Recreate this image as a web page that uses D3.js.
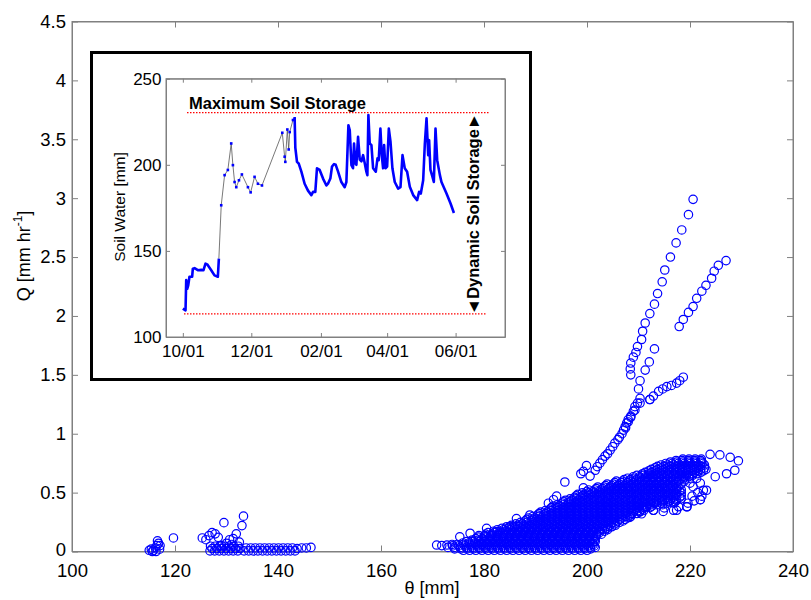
<!DOCTYPE html>
<html lang="en">
<meta charset="utf-8">
<style>
body { margin: 0; background: white; }
svg { font-family: "Liberation Sans", Arial, Helvetica, sans-serif; }
.axis path, .axis line { stroke: #808080; }
.axis text { fill: black; }
.dot { fill: none; stroke: #0000ff; stroke-width: 1.2; }
</style>
<svg width="811" height="600"></svg>
<script src="https://d3js.org/d3.v7.min.js"></script>
<script>
// ---- main scatter: theta [mm] vs Q [mm/hr] ----
var xTicks = [100, 120, 140, 160, 180, 200, 220, 240];
var yTicks = [0, 0.5, 1, 1.5, 2, 2.5, 3, 3.5, 4, 4.5];

var earlyPts = [[115.0,0.01],[115.4,0.02],[115.8,0.01],[116.2,0.03],[116.5,0.05],[116.8,0.07],[116.6,0.09],
    [117.0,0.02],[116.3,0.0],[115.6,0.0],[117.1,0.05],[119.7,0.115],
    [125.3,0.115],[126.0,0.10],[126.6,0.135],[127.2,0.16],[127.8,0.15],[128.4,0.12],[129.5,0.245],[133.0,0.22],
    [133.3,0.30],[131.9,0.15],[131.3,0.11],[130.6,0.10],[130.0,0.07],[129.0,0.05],[132.5,0.08],[131.0,0.06],
    [126.8,0.005],[127.7,0.005],[128.6,0.005],[129.5,0.005],[130.4,0.005],[131.3,0.005],[132.2,0.005],
    [127.2,0.025],[128.1,0.025],[129.0,0.025],[129.9,0.025],[130.8,0.025],[131.7,0.025],[132.6,0.025],
    [126.9,0.045],[127.8,0.045],[128.7,0.045],[129.6,0.045],[130.5,0.045],[131.4,0.045],[132.3,0.045],
    [133.4,0.005],[134.3,0.005],[135.2,0.005],[136.1,0.005],[137.0,0.005],[137.9,0.005],[138.8,0.005],
    [139.7,0.005],[140.6,0.005],[141.5,0.005],[142.4,0.005],[143.3,0.005],
    [133.8,0.03],[134.7,0.03],[135.6,0.03],[136.5,0.03],[137.4,0.03],[138.3,0.03],[139.2,0.03],
    [140.1,0.03],[141.0,0.03],[141.9,0.03],[142.8,0.03],[143.7,0.025],
    [144.6,0.03],[145.5,0.03],[146.4,0.035]];

// dense cloud, one row per Q level: [Q, theta, theta, ...]
var cloudRows = [
    [0.010, 176,177.2,178.4,179.6,180.8,182,183.2,184.4,185.6,186.8,188,189.2,190.4,191.6,192.8,194,195.2,196.4,197.6,198.8,200],
    [0.035, 173,174.2,175.4,176.6,177.8,179,180.2,181.4,182.6,183.8,185,186.2,187.4,188.6,189.8,191,192.2,193.4,194.6,195.8,197,198.2,199.4,200.6,201.6],
    [0.060, 174.8,176,177.2,178.4,179.6,180.8,182,183.2,184.4,185.6,186.8,188,189.2,190.4,191.6,192.8,194,195.2,196.4,197.6,198.8,200,201.2],
    [0.085, 176.6,177.8,179,180.2,181.4,182.6,183.8,185,186.2,187.4,188.6,189.8,191,192.2,193.4,194.6,195.8,197,198.2,199.4,200.6,201.6],
    [0.110, 178.4,179.6,180.8,182,183.2,184.4,185.6,186.8,188,189.2,190.4,191.6,192.8,194,195.2,196.4,197.6,198.8,200,201.2],
    [0.135, 179.0,180.2,181.4,182.6,183.8,185,186.2,187.4,188.6,189.8,191,192.2,193.4,194.6,195.8,197,198.2,199.4,200.6,201.8],
    [0.160, 180.8,182,183.2,184.4,185.6,186.8,188,189.2,190.4,191.6,192.8,194,195.2,196.4,197.6,198.8,200,201.2,202.4],
    [0.185, 182.6,183.8,185,186.2,187.4,188.6,189.8,191,192.2,193.4,194.6,195.8,197,198.2,199.4,200.6,201.8,203,204],
    [0.210, 184.4,185.6,186.8,188,189.2,190.4,191.6,192.8,194,195.2,196.4,197.6,198.8,200,201.2,202.4,203.6,204.8],
    [0.235, 186.2,187.4,188.6,189.8,191,192.2,193.4,194.6,195.8,197,198.2,199.4,200.6,201.8,203,204.2,205.4],
    [0.260, 188,189.2,190.4,191.6,192.8,194,195.2,196.4,197.6,198.8,200,201.2,202.4,203.6,204.8,206,207],
    [0.285, 188.6,189.8,191,192.2,193.4,194.6,195.8,197,198.2,199.4,200.6,201.8,203,204.2,205.4,206.6,207.8],
    [0.310, 190.4,191.6,192.8,194,195.2,196.4,197.6,198.8,200,201.2,202.4,203.6,204.8,206,207.2,208.4],
    [0.335, 191.0,192.2,193.4,194.6,195.8,197,198.2,199.4,200.6,201.8,203,204.2,205.4,206.6,207.8,209,210.2],
    [0.360, 192.8,194,195.2,196.4,197.6,198.8,200,201.2,202.4,203.6,204.8,206,207.2,208.4,209.6,210.8],
    [0.385, 193.4,194.6,195.8,197,198.2,199.4,200.6,201.8,203,204.2,205.4,206.6,207.8,209,210.2,211.4,212.6],
    [0.410, 195.2,196.4,197.6,198.8,200,201.2,202.4,203.6,204.8,206,207.2,208.4,209.6,210.8,212,213.2,214.4,215.6,216.8],
    [0.435, 195.8,197,198.2,199.4,200.6,201.8,203,204.2,205.4,206.6,207.8,209,210.2,211.4,212.6,213.8,215,216.2,217.4],
    [0.460, 197.6,198.8,200,201.2,202.4,203.6,204.8,206,207.2,208.4,209.6,210.8,212,213.2,214.4,215.6,216.8,218],
    [0.485, 198.2,199.4,200.6,201.8,203,204.2,205.4,206.6,207.8,209,210.2,211.4,212.6,213.8,215,216.2,217.4],
    [0.510, 200,201.2,202.4,203.6,204.8,206,207.2,208.4,209.6,210.8,212,213.2,214.4,215.6,216.8,218],
    [0.535, 201.8,203,204.2,205.4,206.6,207.8,209,210.2,211.4,212.6,213.8,215,216.2,217.4],
    [0.560, 203.6,204.8,206,207.2,208.4,209.6,210.8,212,213.2,214.4,215.6,216.6],
    [0.585, 205.4,206.6,207.8,209,210.2,211.4,212.6,213.8,215,216.2,217.4],
    [0.610, 207.2,208.4,209.6,210.8,212,213.2,214.4,215.6,216.8,218,219],
    [0.635, 209,210.2,211.4,212.6,213.8,215,216.2,217.4,218.6,219.8],
    [0.660, 210.8,212,213.2,214.4,215.6,216.8,218,219.2,220.4,221.4],
    [0.685, 212,213.2,214.4,215.6,216.8,218,219.2,220.4,221.6,222.6],
    [0.710, 213.2,214.4,215.6,216.8,218,219.2,220.4,221.6,222.8],
    [0.735, 214.4,215.6,216.8,218,219.2,220.4,221.6,222.8],
    [0.760, 216.2,217.4,218.6,219.8,221,222.2],
    [0.785, 218.6,219.8,221,222.2]
];

// in-between rows of the same cloud
var cloudRowsMid = [
    [0.0225, 174.3,175.5,176.7,177.9,179.1,180.3,181.5,182.7,183.9,185.1,186.3,187.5,188.7,189.9,191.1,192.3,193.5,194.7,195.9,197.1,198.3,199.5,200.7],
    [0.0475, 173.9,175.1,176.3,177.5,178.7,179.9,181.1,182.3,183.5,184.7,185.9,187.1,188.3,189.5,190.7,191.9,193.1,194.3,195.5,196.7,197.9,199.1,200.3,201.4],
    [0.0725, 175.9,177.1,178.3,179.5,180.7,181.9,183.1,184.3,185.5,186.7,187.9,189.1,190.3,191.5,192.7,193.9,195.1,196.3,197.5,198.7,199.9,201.1],
    [0.0975, 177.7,178.9,180.1,181.3,182.5,183.7,184.9,186.1,187.3,188.5,189.7,190.9,192.1,193.3,194.5,195.7,196.9,198.1,199.3,200.5,201.5],
    [0.1225, 178.9,180.1,181.3,182.5,183.7,184.9,186.1,187.3,188.5,189.7,190.9,192.1,193.3,194.5,195.7,196.9,198.1,199.3,200.5,201.7],
    [0.1475, 180.3,181.5,182.7,183.9,185.1,186.3,187.5,188.7,189.9,191.1,192.3,193.5,194.7,195.9,197.1,198.3,199.5,200.7,201.9,202.8],
    [0.1725, 181.9,183.1,184.3,185.5,186.7,187.9,189.1,190.3,191.5,192.7,193.9,195.1,196.3,197.5,198.7,199.9,201.1,202.3,203.4],
    [0.1975, 183.5,184.7,185.9,187.1,188.3,189.5,190.7,191.9,193.1,194.3,195.5,196.7,197.9,199.1,200.3,201.5,202.7,203.9],
    [0.2225, 185.3,186.5,187.7,188.9,190.1,191.3,192.5,193.7,194.9,196.1,197.3,198.5,199.7,200.9,202.1,203.3,204.5,205.5],
    [0.2475, 187.1,188.3,189.5,190.7,191.9,193.1,194.3,195.5,196.7,197.9,199.1,200.3,201.5,202.7,203.9,205.1,206.3],
    [0.2725, 188.3,189.5,190.7,191.9,193.1,194.3,195.5,196.7,197.9,199.1,200.3,201.5,202.7,203.9,205.1,206.3,207.4],
    [0.2975, 189.5,190.7,191.9,193.1,194.3,195.5,196.7,197.9,199.1,200.3,201.5,202.7,203.9,205.1,206.3,207.5,208.5],
    [0.3225, 190.7,191.9,193.1,194.3,195.5,196.7,197.9,199.1,200.3,201.5,202.7,203.9,205.1,206.3,207.5,208.7,209.7],
    [0.3475, 191.9,193.1,194.3,195.5,196.7,197.9,199.1,200.3,201.5,202.7,203.9,205.1,206.3,207.5,208.7,209.9,211],
    [0.3725, 193.1,194.3,195.5,196.7,197.9,199.1,200.3,201.5,202.7,203.9,205.1,206.3,207.5,208.7,209.9,211.1,212.2],
    [0.3975, 194.3,195.5,196.7,197.9,199.1,200.3,201.5,202.7,203.9,205.1,206.3,207.5,208.7,209.9,211.1,212.3,213.5,214.7],
    [0.4225, 195.5,196.7,197.9,199.1,200.3,201.5,202.7,203.9,205.1,206.3,207.5,208.7,209.9,211.1,212.3,213.5,214.7,215.9,217.1],
    [0.4475, 196.7,197.9,199.1,200.3,201.5,202.7,203.9,205.1,206.3,207.5,208.7,209.9,211.1,212.3,213.5,214.7,215.9,217.1,218.3],
    [0.4725, 197.9,199.1,200.3,201.5,202.7,203.9,205.1,206.3,207.5,208.7,209.9,211.1,212.3,213.5,214.7,215.9,217.1,218.3],
    [0.4975, 199.1,200.3,201.5,202.7,203.9,205.1,206.3,207.5,208.7,209.9,211.1,212.3,213.5,214.7,215.9,217.1,218.3],
    [0.5225, 200.3,201.5,202.7,203.9,205.1,206.3,207.5,208.7,209.9,211.1,212.3,213.5,214.7,215.9,217.1,218.3],
    [0.5475, 202.1,203.3,204.5,205.7,206.9,208.1,209.3,210.5,211.7,212.9,214.1,215.3,216.5,217.7],
    [0.5725, 203.9,205.1,206.3,207.5,208.7,209.9,211.1,212.3,213.5,214.7,215.9,217.1,218.3],
    [0.5975, 205.7,206.9,208.1,209.3,210.5,211.7,212.9,214.1,215.3,216.5,217.7,218.9],
    [0.6225, 207.9,209.1,210.3,211.5,212.7,213.9,215.1,216.3,217.5,218.7,219.9],
    [0.6475, 209.7,210.9,212.1,213.3,214.5,215.7,216.9,218.1,219.3,220.5],
    [0.6725, 211.3,212.5,213.7,214.9,216.1,217.3,218.5,219.7,220.9,222.1],
    [0.6975, 212.5,213.7,214.9,216.1,217.3,218.5,219.7,220.9,222.1,223.1],
    [0.7225, 213.7,214.9,216.1,217.3,218.5,219.7,220.9,222.1],
    [0.7475, 215.3,216.5,217.7,218.9,220.1,221.3,222.5],
    [0.7725, 217.3,218.5,219.7,220.9,222.1]
];

// open rings around the right side of the cloud
var ringPts = [[212.9,0.35],[216.8,0.35],[219.4,0.38],[222.0,0.44],[222.6,0.52],[222.0,0.58],[221.3,0.62],
    [220.6,0.55],[220.0,0.58],[212.9,0.41],[211.6,0.38],[210.3,0.34],[215.0,0.37],[217.8,0.38],[220.8,0.43],
    [221.5,0.50],[219.6,0.41],[220.4,0.47]];

var loosePts = [[170.8,0.055],[171.8,0.05],[172.8,0.055],[173.8,0.06],[175.3,0.125],[177.3,0.155],[180.5,0.197],
    [182.5,0.17],[185,0.21],[186.3,0.28],[188.9,0.31],[192.5,0.41],[193.5,0.44],[194.1,0.47],[195.7,0.59],
    [199.3,0.54],[199.3,0.68],[199.9,0.73],[198.8,0.66],
    [223.9,0.825],[225.8,0.82],[227.8,0.80],[229.4,0.77],[228.7,0.69],[227.1,0.66],[224.9,0.635],[223.2,0.52],
    [222.3,0.47],[222.0,0.44],[219.4,0.38],[217.4,0.35],[214.8,0.34],[212.9,0.35],[210.6,0.32],[208.3,0.29]];

var steepPts = [[220.6,2.99],[219.7,2.86],[218.4,2.73],[217.3,2.62],[216.2,2.50],[215.1,2.39],[214.6,2.29],
    [213.7,2.19],[213.1,2.10],[212.2,2.02],[211.3,1.94],[210.8,1.87],[210.6,1.80],[209.8,1.74],[209.5,1.69],
    [209.0,1.65],[208.5,1.60],[208.4,1.55],[208.5,1.50],
    [213.1,1.72],[212.1,1.61],[211.3,1.54],[210.3,1.45],[210.0,1.38],[210.3,1.30],[209.8,1.26],[209.3,1.23],
    [209.0,1.19],[208.5,1.15],[208.0,1.10],[207.4,1.06],[207.1,1.03],[206.3,0.97],[205.4,0.92],[204.5,0.86],
    [203.5,0.81],[202.5,0.75],[201.6,0.69],[200.6,0.64],
    [212.2,1.29],[210.3,1.26],[209.3,1.20],[208.5,1.14],[207.7,1.09],[208.0,1.12],[207.5,1.05],[206.8,1.00],
    [206.0,0.95],[205.0,0.89],[204.0,0.83],[203.0,0.78],[202.0,0.72]];

var rightPts = [[227.0,2.47],[225.5,2.43],[224.7,2.38],[224.2,2.32],[223.1,2.26],[222.3,2.21],[221.3,2.15],
    [220.6,2.08],[219.7,2.03],[218.7,1.97],[217.9,1.91]];

var kneePts = [[218.7,1.48],[218.0,1.45],[217.4,1.43],[216.4,1.41],[215.5,1.40],[214.7,1.38],[213.9,1.36],
    [212.9,1.32],[212.2,1.29]];

// ---- inset: soil water [mm], days after 10/01 ----
var insetStart = "2009-10-01";
var insetTickDates = ["2009-10-01", "2009-12-01", "2010-02-01", "2010-04-01", "2010-06-01"];
var insetYTicks = [100, 150, 200, 250];
var maxStorage = 230.3;
var minStorage = 113.4;

var swEarly = [[0,116.5],[2.4,115.5],[3.0,133],[3.9,128],[4.8,130],[5.9,135],[8.3,135],[8.9,139.7],[10.4,140],
    [13.4,138.8],[16.4,139],[18.4,138.8],[20.2,142.6],[21.7,142.2],[25.3,138.8],[28.2,135.8],[31.2,135],[32.1,145.5]];
var swSparse = [[34.2,176.5],[37.2,194],[40.1,197],[43.1,212.4],[44.6,199.8],[46.1,190],[47.6,187],[50.0,191],
    [52.6,194.4],[58.0,187],[60.4,184],[63.9,193],[66.9,189],[70.5,188],[88.6,218.6],[90.7,204.7],[91.3,201.7],
    [93.1,220.5],[94.3,208.9],[95.2,219],[98.1,226],[99.6,227]];
var swLate = [[99.6,227],[100.2,210],[101.7,201.7],[103.2,200.8],[105.6,196],[108.5,189],[111.5,185],[114.5,182.4],
    [116,184.3],[118,184.3],[119.5,198],[121.9,197],[124.9,192],[127.9,188],[129.3,189],[131.4,192],[132.9,199],
    [134.7,200.4],[136.2,200],[138.3,196],[141.2,190],[144.2,187],[145.7,190],[147.5,223],[148.7,220],[150.2,199.8],
    [151.6,198],[152.5,212.4],[153.7,200.8],[154.6,200],[156.1,216.3],[157.6,203],[159.1,202],[160.6,205.6],
    [162.1,200.8],[163.5,196],[164.4,194],[165.3,228.9],[166.5,212.4],[168.0,211.4],[169.5,198],[171.9,196],
    [173.4,203.7],[174.5,202.7],[176,221],[177.2,205.6],[178.4,198],[179.3,211.4],[180.5,198],[182,199],[183.5,221],
    [185,213.4],[186.7,198],[188.8,190],[191.8,186.2],[193.9,187],[195.7,205.6],[197.7,198],[199.8,196],[202.2,187.2],
    [205.2,182.4],[208.7,179.5],[210.5,184.3],[212,183.3],[214.1,191],[215.6,212.4],[217.1,227],[218.6,205.6],
    [219.4,214.3],[220.6,197],[222.4,193],[223.6,190],[225.1,221],[226.6,202.7],[229,194],[230.4,190],[234.9,183.3],
    [238.5,177.5],[241.5,172]];

var svg = d3.select("svg");

var x = d3.scaleLinear().domain([100, 240]).range([72, 793]);
var y = d3.scaleLinear().domain([0, 4.5]).range([551.5, 21.5]);

// main frame
svg.append("rect")
    .attr("x", 72).attr("y", 21.5).attr("width", 721).attr("height", 530)
    .attr("fill", "none").attr("stroke", "#808080");

svg.append("g").attr("class", "axis")
    .attr("transform", "translate(0,551.5)")
    .call(d3.axisBottom(x).tickValues(xTicks).tickSize(-6).tickSizeOuter(0).tickPadding(12))
    .style("font-size", "18.5px").style("font-family", null);
var yAxisG = svg.append("g").attr("class", "axis")
    .attr("transform", "translate(72,0)")
    .call(d3.axisLeft(y).tickValues(yTicks).tickSize(-6).tickSizeOuter(0).tickPadding(6)
        .tickFormat(function(d) { return String(d); }))
    .style("font-size", "18.5px").style("font-family", null);
// lift the "0" a little so it clears the "100" below it
yAxisG.selectAll(".tick text").filter(function(d) { return d === 0; }).attr("y", -2);
svg.append("g").attr("class", "axis")
    .attr("transform", "translate(0,21.5)")
    .call(d3.axisTop(x).tickValues(xTicks).tickSize(-6).tickSizeOuter(0).tickFormat(""));
svg.append("g").attr("class", "axis")
    .attr("transform", "translate(793,0)")
    .call(d3.axisRight(y).tickValues(yTicks).tickSize(-6).tickSizeOuter(0).tickFormat(""));
svg.selectAll(".axis path.domain").attr("stroke", "none");

// axis titles
svg.append("text")
    .attr("x", 432).attr("y", 594)
    .attr("text-anchor", "middle").style("font-size", "18px")
    .text("\u03b8 [mm]");
var ql = svg.append("text")
    .attr("transform", "translate(30,256) rotate(-90)")
    .attr("text-anchor", "middle").style("font-size", "18px");
ql.append("tspan").text("Q [mm hr");
ql.append("tspan").attr("dy", -8).style("font-size", "12px").text("-1");
ql.append("tspan").attr("dy", 8).text("]");

// scatter
var allPts = earlyPts.concat(loosePts, ringPts, steepPts, rightPts, kneePts);
cloudRows.concat(cloudRowsMid).forEach(function(r) {
    r.slice(1).forEach(function(t) { allPts.push([t, r[0]]); });
});
svg.append("g").selectAll("circle")
    .data(allPts)
    .enter().append("circle")
    .attr("class", "dot")
    .attr("cx", function(d) { return x(d[0]); })
    .attr("cy", function(d) { return y(d[1]); })
    .attr("r", 4.2);

// ---- inset ----
svg.append("rect")
    .attr("x", 91.5).attr("y", 52.5).attr("width", 439).attr("height", 327)
    .attr("fill", "white").attr("stroke", "black").attr("stroke-width", 3);

var parse = d3.timeParse("%Y-%m-%d");
var t0 = parse(insetStart);
function dayDate(d) { return new Date(t0.getTime() + d * 864e5); }

var ix = d3.scaleTime().domain([parse("2009-09-16"), parse("2010-07-15")]).range([166, 505]);
var iy = d3.scaleLinear().domain([100, 250]).range([337, 78.7]);
var tickDates = insetTickDates.map(parse);

svg.append("rect")
    .attr("x", 166).attr("y", 78.7).attr("width", 339).attr("height", 258.3)
    .attr("fill", "none").attr("stroke", "#808080");
svg.append("g").attr("class", "axis")
    .attr("transform", "translate(0,337)")
    .call(d3.axisBottom(ix).tickValues(tickDates).tickSize(-4).tickSizeOuter(0).tickPadding(7.5)
        .tickFormat(d3.timeFormat("%m/%d")))
    .style("font-size", "17px").style("font-family", null);
svg.append("g").attr("class", "axis")
    .attr("transform", "translate(166,0)")
    .call(d3.axisLeft(iy).tickValues(insetYTicks).tickSize(-4).tickSizeOuter(0).tickPadding(4.5))
    .style("font-size", "17px").style("font-family", null);
svg.append("g").attr("class", "axis")
    .attr("transform", "translate(0,78.7)")
    .call(d3.axisTop(ix).tickValues(tickDates).tickSize(-4).tickSizeOuter(0).tickFormat(""));
svg.append("g").attr("class", "axis")
    .attr("transform", "translate(505,0)")
    .call(d3.axisRight(iy).tickValues(insetYTicks).tickSize(-4).tickSizeOuter(0).tickFormat(""));
svg.selectAll(".axis path.domain").attr("stroke", "none");

svg.append("text")
    .attr("transform", "translate(125,207) rotate(-90)")
    .attr("text-anchor", "middle").style("font-size", "15.5px")
    .text("Soil Water [mm]");

// storage limits
svg.append("line")
    .attr("x1", 187).attr("x2", 489)
    .attr("y1", iy(maxStorage)).attr("y2", iy(maxStorage))
    .attr("stroke", "red").attr("stroke-width", 1.3).attr("stroke-dasharray", "1.5,1.5");
svg.append("line")
    .attr("x1", 184).attr("x2", 487)
    .attr("y1", iy(minStorage)).attr("y2", iy(minStorage))
    .attr("stroke", "red").attr("stroke-width", 1.3).attr("stroke-dasharray", "1.5,1.5");

svg.append("text")
    .attr("x", 189).attr("y", 109)
    .style("font-size", "16.5px").style("font-weight", "bold")
    .text("Maximum Soil Storage");
svg.append("text")
    .attr("transform", "translate(479,214) rotate(-90)")
    .attr("text-anchor", "middle").style("font-size", "16.5px").style("font-weight", "bold")
    .text("\u25c4Dynamic Soil Storage\u25ba");

// soil water series
var line = d3.line()
    .x(function(d) { return ix(dayDate(d[0])); })
    .y(function(d) { return iy(d[1]); });

var thin = [swEarly[swEarly.length - 1]].concat(swSparse, [swLate[0]]);
svg.append("path")
    .attr("d", line(thin))
    .attr("fill", "none").attr("stroke", "#555").attr("stroke-width", 0.8);
svg.append("g").selectAll("rect")
    .data(swSparse)
    .enter().append("rect")
    .attr("x", function(d) { return ix(dayDate(d[0])) - 1.3; })
    .attr("y", function(d) { return iy(d[1]) - 1.3; })
    .attr("width", 2.6).attr("height", 2.6)
    .attr("fill", "#0000ff");
[swEarly, swLate].forEach(function(seg) {
    svg.append("path")
        .attr("d", line(seg))
        .attr("fill", "none").attr("stroke", "#0000ff")
        .attr("stroke-width", 2.6).attr("stroke-linejoin", "round");
});
</script>
</html>
